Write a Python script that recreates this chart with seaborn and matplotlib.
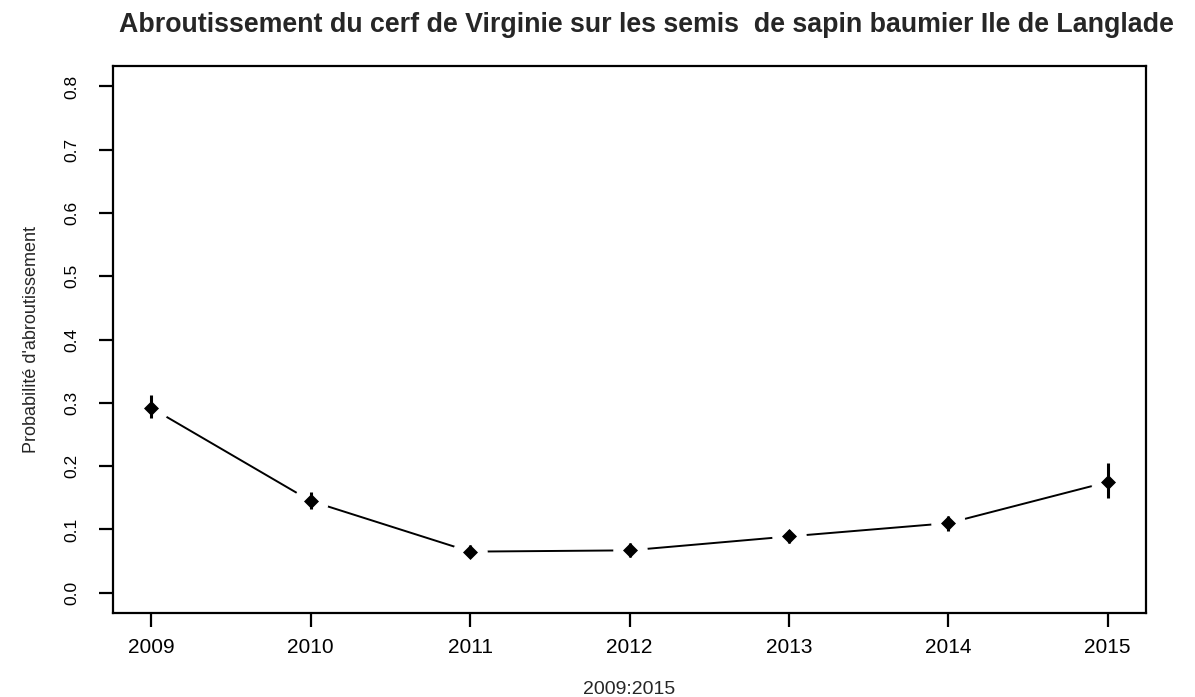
import matplotlib
matplotlib.use("Agg")
import matplotlib.pyplot as plt
import seaborn as sns
import pandas as pd

years = [2009, 2010, 2011, 2012, 2013, 2014, 2015]
prob = [0.292, 0.145, 0.065, 0.067, 0.089, 0.110, 0.175]
lower = [0.276, 0.133, 0.056, 0.056, 0.078, 0.097, 0.149]
upper = [0.312, 0.159, 0.075, 0.079, 0.099, 0.122, 0.205]

df = pd.DataFrame({'annee': years, 'p': prob, 'lo': lower, 'hi': upper})

sns.set_style("ticks")
plt.rcParams['font.family'] = ['Liberation Sans', 'DejaVu Sans']

fig = plt.figure(figsize=(11.95, 6.97), dpi=100)
ax = fig.add_axes([0.0946, 0.1205, 0.8644, 0.7845])

# line with gaps around the points (R type="b")
sns.lineplot(data=df, x='annee', y='p', ax=ax, color='black', linewidth=1.4,
             marker='o', markersize=24, markerfacecolor='white',
             markeredgecolor='white', zorder=2)
ax.vlines(df['annee'], df['lo'], df['hi'], color='black', linewidth=2.2, zorder=3)
sns.scatterplot(data=df, x='annee', y='p', ax=ax, color='black', marker='D',
                s=50, edgecolor='black', zorder=4)

ax.set_xlim(2008.76, 2015.24)
ax.set_ylim(-0.032, 0.832)
ax.set_xticks(years)
ax.set_yticks([0.0, 0.1, 0.2, 0.3, 0.4, 0.5, 0.6, 0.7, 0.8])
ax.set_yticklabels(['0.0', '0.1', '0.2', '0.3', '0.4', '0.5', '0.6', '0.7', '0.8'],
                   rotation=90, va='center')
ax.tick_params(axis='both', direction='out', length=10, width=1.6,
               color='black', labelcolor='black')
ax.tick_params(axis='x', pad=8, labelsize=15)
ax.tick_params(axis='y', pad=14, labelsize=12.5)
for sp in ax.spines.values():
    sp.set_visible(True)
    sp.set_linewidth(1.6)
    sp.set_color('black')

ax.set_xlabel('2009:2015', fontsize=14, labelpad=17)
ax.set_ylabel("Probabilité d'abroutissement", fontsize=13, labelpad=18)
fig.suptitle('Abroutissement du cerf de Virginie sur les semis  de sapin baumier Ile de Langlade',
             x=0.541, y=0.983, fontsize=19.3, fontweight='bold')

fig.savefig('out.png', dpi=100, facecolor='white')
